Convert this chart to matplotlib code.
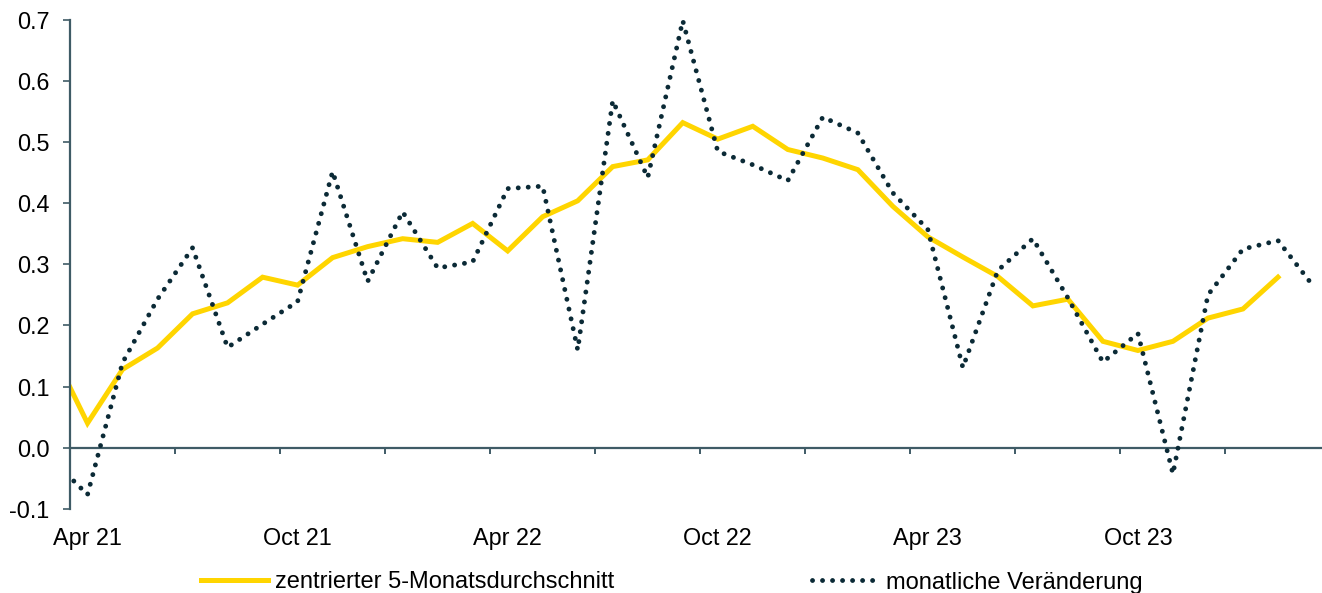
import matplotlib
matplotlib.use("Agg")
import matplotlib.pyplot as plt
import numpy as np

plt.rcParams['font.family'] = ['Liberation Sans', 'DejaVu Sans']

# Monate Mär 21 .. Mär 24 (Position 0 = Apr 21)
monate = ["Mar 21", "Apr 21", "May 21", "Jun 21", "Jul 21", "Aug 21", "Sep 21", "Oct 21",
          "Nov 21", "Dec 21", "Jan 22", "Feb 22", "Mar 22", "Apr 22", "May 22", "Jun 22",
          "Jul 22", "Aug 22", "Sep 22", "Oct 22", "Nov 22", "Dec 22", "Jan 23", "Feb 23",
          "Mar 23", "Apr 23", "May 23", "Jun 23", "Jul 23", "Aug 23", "Sep 23", "Oct 23",
          "Nov 23", "Dec 23", "Jan 24", "Feb 24", "Mar 24"]

monatlich = [-0.020, -0.077, 0.139, 0.243, 0.327, 0.164, 0.202, 0.239, 0.452, 0.272,
             0.386, 0.294, 0.304, 0.424, 0.428, 0.160, 0.568, 0.442, 0.699, 0.485,
             0.463, 0.437, 0.541, 0.515, 0.417, 0.357, 0.131, 0.290, 0.342, 0.245,
             0.140, 0.187, -0.043, 0.250, 0.325, 0.339, 0.265]

durchschnitt = [0.157, 0.040, 0.128, 0.163, 0.219, 0.237, 0.279, 0.266, 0.311, 0.329,
                0.342, 0.336, 0.367, 0.322, 0.378, 0.404, 0.460, 0.471, 0.532, 0.505,
                0.526, 0.488, 0.474, 0.455, 0.395, 0.345, 0.312, 0.280, 0.232, 0.243,
                0.174, 0.159, 0.174, 0.212, 0.227, 0.279]

tick_labels = ["Apr 21", "Oct 21", "Apr 22", "Oct 22", "Apr 23", "Oct 23"]
yticks = [-0.1, 0.0, 0.1, 0.2, 0.3, 0.4, 0.5, 0.6, 0.7]

gelb = '#FFD500'
dunkel = '#0b2a36'
achse = '#3f5b66'

x_all = np.arange(len(monate)) - 1
x_avg = x_all[:len(durchschnitt)]

fig = plt.figure(figsize=(13.22, 5.93), dpi=100)
ax = fig.add_axes([70 / 1322, 84.3 / 593, 1 - 70 / 1322, 488.7 / 593])

l1, = ax.plot(x_avg, durchschnitt, color=gelb, lw=3.6, solid_joinstyle='miter', zorder=2,
              label='zentrierter 5-Monatsdurchschnitt')
l2, = ax.plot(x_all, monatlich, color=dunkel, lw=3.5, linestyle=(0, (0.01, 2.05)),
              dash_capstyle='round', zorder=3, label='monatliche Veränderung')

ax.set_xlim(-0.5, 35.257)
ax.set_ylim(-0.1, 0.7)

for s in ['top', 'right']:
    ax.spines[s].set_visible(False)
ax.spines['bottom'].set_position(('data', 0))
for s in ['left', 'bottom']:
    ax.spines[s].set_color(achse)
    ax.spines[s].set_linewidth(1.6)

ax.set_yticks(yticks)
ax.set_yticklabels([f"{v:.1f}" for v in yticks])
ax.tick_params(axis='y', direction='out', length=5, width=1.2, color=achse,
               pad=9.9, labelsize=16.8)

ax.set_xticks(np.arange(-0.5, 33, 3))
ax.set_xticklabels([])
ax.tick_params(axis='x', direction='out', length=4.3, width=1.4, color=achse)

for lab in tick_labels:
    k = monate.index(lab) - 1
    ax.annotate(lab, xy=(k, 0), xycoords=('data', 'axes fraction'),
                xytext=(0, -36.3 * 72 / 100), textcoords='offset points',
                ha='center', va='baseline', fontsize=16.8)

fig.legend(handles=[l1, l2], loc='center left', bbox_to_anchor=(201 / 1322, 10.5 / 593),
           ncol=2, frameon=False, fontsize=17.0, handlelength=2.83, handletextpad=0.3,
           columnspacing=8.38, borderpad=0, borderaxespad=0)

fig.savefig('out.png', dpi=100)
